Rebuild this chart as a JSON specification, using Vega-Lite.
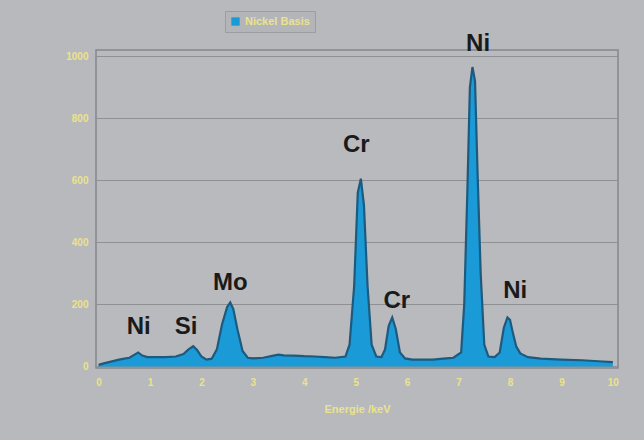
{
  "$schema": "https://vega.github.io/schema/vega-lite/v6.json",
  "width": 522,
  "height": 318,
  "autosize": "none",
  "padding": {"left": 96, "top": 50, "right": 26, "bottom": 72},
  "background": "#b8b9bd",
  "config": {
    "font": "Liberation Sans",
    "view": {"stroke": "#86878b", "strokeWidth": 1.5, "fill": "#b9babe"},
    "axis": {"labelColor": "#ebe38a", "labelFontWeight": "bold", "labelFontSize": 10, "titleColor": "#ebe38a", "titleFontWeight": "bold", "titleFontSize": 11, "domain": false, "ticks": false, "gridColor": "#8f9094", "gridWidth": 1}
  },
  "datasets": {
    "spectrum": [
      {"e": 0.0, "c": 5}, {"e": 0.1, "c": 10}, {"e": 0.2, "c": 14}, {"e": 0.3, "c": 18}, {"e": 0.4, "c": 22}, {"e": 0.5, "c": 25}, {"e": 0.6, "c": 28}, {"e": 0.7, "c": 38}, {"e": 0.77, "c": 45}, {"e": 0.85, "c": 35}, {"e": 0.95, "c": 30}, {"e": 1.1, "c": 30}, {"e": 1.3, "c": 30}, {"e": 1.5, "c": 32}, {"e": 1.65, "c": 40}, {"e": 1.75, "c": 55}, {"e": 1.84, "c": 65}, {"e": 1.92, "c": 52}, {"e": 2.0, "c": 32}, {"e": 2.1, "c": 22}, {"e": 2.2, "c": 25}, {"e": 2.3, "c": 55}, {"e": 2.4, "c": 135}, {"e": 2.5, "c": 192}, {"e": 2.56, "c": 206}, {"e": 2.62, "c": 185}, {"e": 2.7, "c": 120}, {"e": 2.8, "c": 50}, {"e": 2.9, "c": 28}, {"e": 3.0, "c": 26}, {"e": 3.2, "c": 28}, {"e": 3.4, "c": 35}, {"e": 3.5, "c": 38}, {"e": 3.6, "c": 36}, {"e": 3.8, "c": 35}, {"e": 4.0, "c": 33}, {"e": 4.2, "c": 32}, {"e": 4.4, "c": 30}, {"e": 4.6, "c": 28}, {"e": 4.8, "c": 32}, {"e": 4.88, "c": 70}, {"e": 4.97, "c": 260}, {"e": 5.04, "c": 560}, {"e": 5.1, "c": 605}, {"e": 5.16, "c": 520}, {"e": 5.23, "c": 260}, {"e": 5.31, "c": 70}, {"e": 5.4, "c": 32}, {"e": 5.5, "c": 30}, {"e": 5.57, "c": 55}, {"e": 5.64, "c": 130}, {"e": 5.71, "c": 158}, {"e": 5.78, "c": 120}, {"e": 5.86, "c": 45}, {"e": 5.96, "c": 26}, {"e": 6.1, "c": 22}, {"e": 6.3, "c": 22}, {"e": 6.5, "c": 22}, {"e": 6.7, "c": 25}, {"e": 6.9, "c": 28}, {"e": 7.05, "c": 45}, {"e": 7.11, "c": 200}, {"e": 7.17, "c": 560}, {"e": 7.22, "c": 900}, {"e": 7.27, "c": 965}, {"e": 7.32, "c": 920}, {"e": 7.37, "c": 620}, {"e": 7.43, "c": 300}, {"e": 7.5, "c": 70}, {"e": 7.58, "c": 32}, {"e": 7.7, "c": 30}, {"e": 7.8, "c": 45}, {"e": 7.88, "c": 125}, {"e": 7.95, "c": 158}, {"e": 8.0, "c": 150}, {"e": 8.06, "c": 105}, {"e": 8.12, "c": 65}, {"e": 8.2, "c": 42}, {"e": 8.35, "c": 30}, {"e": 8.6, "c": 25}, {"e": 9.0, "c": 22}, {"e": 9.4, "c": 20}, {"e": 9.8, "c": 16}, {"e": 10.0, "c": 14}
    ],
    "labels": [
      {"e": 0.78, "c": 126, "t": "Ni"},
      {"e": 1.70, "c": 126, "t": "Si"},
      {"e": 2.56, "c": 268, "t": "Mo"},
      {"e": 5.01, "c": 713, "t": "Cr"},
      {"e": 5.80, "c": 210, "t": "Cr"},
      {"e": 7.38, "c": 1039, "t": "Ni"},
      {"e": 8.10, "c": 242, "t": "Ni"}
    ]
  },
  "layer": [
    {
      "data": {"name": "spectrum"},
      "transform": [{"calculate": "'Nickel Basis'", "as": "series"}],
      "mark": {"type": "area", "opacity": 1, "interpolate": "linear"},
      "encoding": {
        "x": {"field": "e", "type": "quantitative", "scale": {"domain": [-0.05, 10.1], "nice": false}, "axis": {"values": [0,1,2,3,4,5,6,7,8,9,10], "grid": false, "labelPadding": 9, "title": "Energie /keV", "titlePadding": 16}},
        "y": {"field": "c", "type": "quantitative", "scale": {"domain": [-5, 1020], "nice": false}, "axis": {"values": [0,200,400,600,800,1000], "format": "d", "labelPadding": 8, "title": null}},
        "color": {"field": "series", "type": "nominal", "scale": {"range": ["#1b9ad8"]}, "legend": {"title": null, "orient": "none", "legendX": 129, "legendY": -39, "symbolType": "square", "symbolSize": 70, "symbolOpacity": 1, "labelColor": "#ebe38a", "labelFontWeight": "bold", "labelFontSize": 11, "strokeColor": "#9c9da1", "fillColor": "#b4b5b9", "padding": 5}}
      }
    },
    {
      "data": {"name": "spectrum"},
      "mark": {"type": "line", "color": "#1d5a7e", "strokeWidth": 2.2, "interpolate": "linear"},
      "encoding": {
        "x": {"field": "e", "type": "quantitative"},
        "y": {"field": "c", "type": "quantitative"}
      }
    },
    {
      "data": {"name": "labels"},
      "mark": {"type": "text", "fontSize": 24, "fontWeight": "bold", "color": "#1a1a1a", "baseline": "middle", "align": "center"},
      "encoding": {
        "x": {"field": "e", "type": "quantitative"},
        "y": {"field": "c", "type": "quantitative"},
        "text": {"field": "t"}
      }
    }
  ]
}
